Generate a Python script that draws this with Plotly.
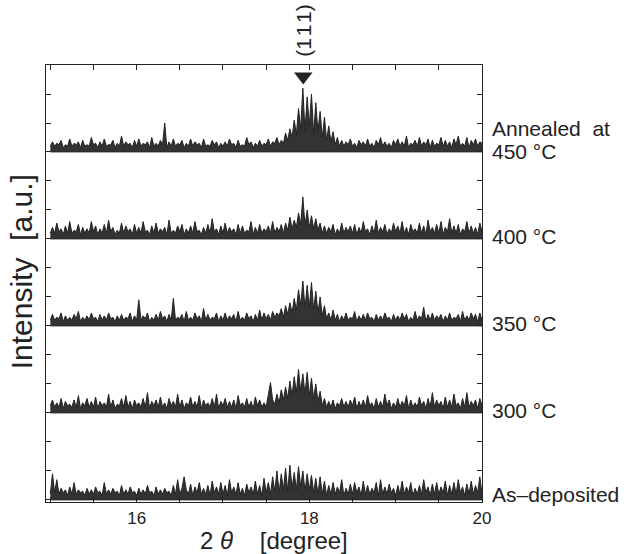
import plotly.graph_objects as go

# 2-theta sampling grid (degrees): 15.000 .. 20.000, step 0.025
two_theta = [round(15.0 + 0.025 * i, 3) for i in range(201)]

# Intensities in counts-like units (1 unit = 0.05 of the stacking step)
as_deposited = [
    4,18,5,14,4,8,5,7,3,9,4,12,4,7,5,6,3,8,4,7,
    4,9,5,6,3,12,4,7,4,8,5,6,3,10,4,7,4,9,5,6,
    3,8,4,7,4,10,5,6,3,9,4,7,4,8,5,6,3,10,4,14,
    4,8,16,7,4,11,3,9,5,12,4,8,4,10,3,13,5,9,4,12,
    4,10,3,14,5,9,4,12,4,8,3,11,5,9,4,13,4,10,3,15,
    5,12,4,16,6,20,5,18,7,22,6,24,8,19,7,23,9,20,6,18,
    7,17,5,15,4,16,4,13,3,10,4,12,4,9,5,14,3,8,4,11,
    4,12,5,9,3,13,4,10,4,8,5,12,3,14,4,9,4,11,5,8,
    3,10,4,13,4,9,5,12,3,8,4,10,4,14,5,9,3,11,4,12,
    4,9,5,13,3,10,4,12,4,14,5,9,3,11,4,13,4,10,5,16,
    4]
annealed_300 = [
    5,9,4,7,4,10,3,8,5,6,4,9,4,12,3,7,5,10,4,8,
    4,11,3,8,5,7,4,13,4,9,3,6,5,10,4,12,4,8,3,9,
    5,7,4,10,4,14,3,8,5,9,4,11,4,7,3,10,5,8,4,13,
    4,9,3,7,5,11,4,8,4,12,3,9,5,7,4,10,4,13,3,8,
    5,10,4,8,4,9,3,12,5,7,4,10,4,8,3,11,5,9,4,7,
    4,12,21,9,6,13,7,16,9,18,10,22,12,25,14,30,15,27,13,28,
    12,24,10,20,8,15,5,10,4,8,4,9,3,7,5,10,4,8,4,9,
    5,11,3,8,4,9,4,12,5,7,3,10,4,8,4,13,5,9,3,7,
    4,10,4,8,5,12,3,9,4,7,4,11,5,8,3,10,4,14,4,9,
    5,8,3,11,4,9,4,13,5,7,3,10,4,14,4,8,5,9,3,10,
    5]
annealed_350 = [
    4,8,4,6,5,9,3,7,4,6,4,8,5,10,3,6,4,7,4,9,
    5,6,3,8,4,7,4,9,5,6,3,7,4,8,4,6,5,9,3,7,
    4,18,4,7,5,9,3,6,4,8,4,10,5,7,3,8,4,19,4,6,
    5,8,3,10,4,6,4,9,5,7,3,12,4,8,4,6,5,9,3,7,
    4,9,4,7,5,8,3,10,4,6,4,9,5,7,3,8,4,11,4,9,
    5,8,4,10,6,9,7,12,6,14,8,16,9,19,11,25,14,31,12,28,
    13,30,11,24,9,20,7,14,5,9,4,11,4,8,3,7,4,9,4,6,
    5,10,3,7,4,8,4,9,5,6,3,8,4,7,4,9,5,6,3,8,
    4,7,4,9,5,8,3,6,4,10,4,7,5,13,3,8,4,9,4,7,
    5,8,3,7,4,9,4,6,5,8,3,10,4,7,4,9,5,8,3,9,
    4]
annealed_400 = [
    4,8,4,11,5,7,3,9,4,12,4,6,5,10,3,8,4,7,4,12,
    5,9,3,7,4,10,4,13,5,8,3,6,4,11,4,9,5,7,3,10,
    4,8,4,12,5,6,3,9,4,11,4,7,5,8,3,13,4,6,4,9,
    5,10,3,7,4,9,4,12,5,6,3,8,4,10,4,14,5,7,3,9,
    4,11,4,8,5,7,3,10,4,9,4,6,5,12,3,8,4,10,4,7,
    5,9,4,12,4,8,5,10,4,11,6,15,7,13,8,18,10,29,9,20,
    8,16,7,14,6,11,4,9,4,8,5,10,3,7,4,11,4,8,5,9,
    4,10,3,8,4,12,5,7,3,9,4,13,4,8,5,10,3,7,4,11,
    5,9,4,12,4,8,3,10,5,7,4,11,4,9,3,13,5,8,4,10,
    4,12,3,8,5,14,4,9,4,10,3,7,5,12,4,9,4,8,3,11,
    5]
annealed_450 = [
    4,7,4,6,5,8,3,5,4,9,4,6,5,7,3,8,4,5,4,10,
    5,6,3,7,4,9,4,5,5,8,3,6,4,11,4,7,5,6,3,8,
    4,9,4,6,5,7,3,10,4,6,4,8,5,20,3,7,4,9,4,6,
    5,8,3,6,4,9,4,7,5,6,3,9,4,5,4,8,5,7,3,6,
    4,7,4,9,5,6,3,8,4,5,4,10,5,7,3,6,4,8,4,6,
    5,9,4,7,6,10,5,8,6,13,8,16,10,22,12,30,16,44,14,38,
    18,40,12,34,14,28,10,24,8,18,7,14,5,10,4,8,4,7,5,9,
    4,6,3,8,5,7,4,9,4,6,3,8,5,10,4,7,4,6,3,8,
    5,9,4,7,4,11,3,6,5,8,4,10,4,7,5,9,3,8,4,6,
    5,10,4,8,4,7,3,9,5,11,4,6,4,10,3,8,5,9,4,7,
    6]

series = [as_deposited, annealed_300, annealed_350, annealed_400, annealed_450]
labels = ["As\u2013deposited", "300 \u00b0C", "350 \u00b0C", "400 \u00b0C", "450 \u00b0C"]
peak_111 = 17.93

UNIT = 0.05     # intensity unit -> y-axis units
STEP = 3.0      # vertical offset between patterns
FONT = "Liberation Sans, Arial, Helvetica, sans-serif"
INK = "#222222"

fig = go.Figure()
for k, vals in enumerate(series):
    base = k * STEP
    fig.add_trace(go.Scatter(
        x=two_theta, y=[base] * len(two_theta), mode="lines",
        line=dict(color=INK, width=0.8), showlegend=False, hoverinfo="skip"))
    fig.add_trace(go.Scatter(
        x=two_theta, y=[base + v * UNIT for v in vals],
        mode="lines", line=dict(color=INK, width=1.0),
        fill="tonexty", fillcolor="rgba(34,34,34,0.92)",
        showlegend=False, hoverinfo="skip"))

# (111) marker arrow
fig.add_trace(go.Scatter(
    x=[peak_111], y=[14.6], mode="markers",
    marker=dict(symbol="triangle-down", size=16, color=INK),
    cliponaxis=False, showlegend=False, hoverinfo="skip"))

ann = []
label_y = [0.2, 3.1, 6.1, 9.1, 12.0]
for k, lab in enumerate(labels):
    ann.append(dict(x=1, xref="paper", xshift=8, y=label_y[k], yref="y",
                    text=lab, showarrow=False, xanchor="left", yanchor="middle",
                    font=dict(family=FONT, size=21, color=INK)))
ann.append(dict(x=1, xref="paper", xshift=8, y=12.8, yref="y",
                text="Annealed&nbsp; at", showarrow=False, xanchor="left",
                yanchor="middle", font=dict(family=FONT, size=21, color=INK)))
ann.append(dict(x=peak_111, xref="x", y=1, yref="paper", yshift=6,
                text="(1\u200a1\u200a1)", textangle=-90, showarrow=False,
                xanchor="center", yanchor="bottom",
                font=dict(family=FONT, size=21, color=INK)))
ann.append(dict(x=0.523, xref="paper", y=-0.0885, yref="paper",
                text="2 <i>\u03b8</i>&nbsp;&nbsp;&nbsp; [degree]",
                showarrow=False, xanchor="center", yanchor="middle",
                font=dict(family=FONT, size=24, color=INK)))
ann.append(dict(x=-0.057, xref="paper", y=0.526, yref="paper",
                text="Intensity&nbsp;&nbsp;[a.u.]", textangle=-90,
                showarrow=False, xanchor="center", yanchor="middle",
                font=dict(family=FONT, size=30, color=INK)))

xt = [15 + 0.5 * i for i in range(11)]
xtt = ["16" if abs(v - 16) < 1e-9 else "18" if abs(v - 18) < 1e-9 else "20" if abs(v - 20) < 1e-9 else "" for v in xt]

fig.update_layout(
    width=631, height=554,
    margin=dict(l=46, r=149, t=65, b=52),
    paper_bgcolor="white", plot_bgcolor="white",
    annotations=ann,
    xaxis=dict(range=[14.95, 20.0], tickvals=xt, ticktext=xtt,
               ticks="inside", ticklen=5, tickwidth=1, tickcolor=INK,
               showline=True, linecolor=INK, linewidth=1.3, mirror="ticks",
               showgrid=False, zeroline=False,
               tickfont=dict(family=FONT, size=17, color=INK)),
    yaxis=dict(range=[-0.07, 15.0], tickvals=list(range(0, 16)),
               showticklabels=False,
               ticks="inside", ticklen=5, tickwidth=1, tickcolor=INK,
               showline=True, linecolor=INK, linewidth=1.3, mirror="ticks",
               showgrid=False, zeroline=False),
)

fig.write_html("out.html")
